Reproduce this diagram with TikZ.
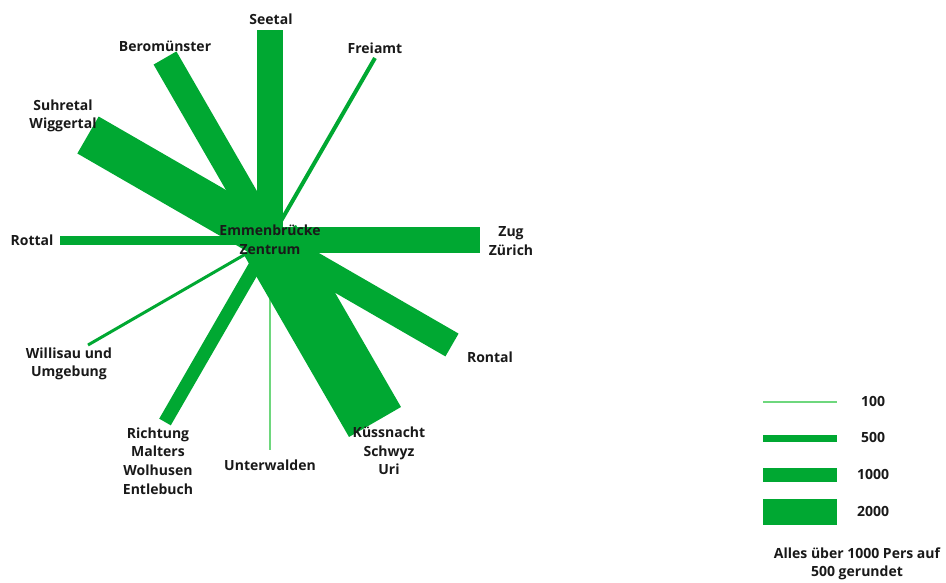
\documentclass[tikz,border=0pt]{standalone}
\usepackage{fontspec}
\setmainfont{Open Sans}
\usetikzlibrary{positioning}
\definecolor{flowgreen}{RGB}{0,168,50}
\definecolor{flowlight}{RGB}{110,215,125}
\tikzset{flow/.style={draw=flowgreen,line cap=butt},
 f100/.style={draw=flowlight,line width=1.2pt},
 f500/.style={flow,line width=5.25pt},
 f1000/.style={flow,line width=10pt},
 f2000/.style={flow,line width=19.75pt},
 place/.style={align=center,inner sep=1pt,text=black!90,
  font=\fontsize{10.5}{13.9}\selectfont\bfseries},
 legval/.style={place}}

\begin{document}
\begin{tikzpicture}[x=0.75pt,y=-0.75pt]
\useasboundingbox (0,0) rectangle (946,582);
\coordinate (c) at (270,240);
\coordinate (zug) at (480,240);
\coordinate (frei) at (375,58);
\coordinate (see) at (270,30);
\coordinate (bero) at (165,58);
\coordinate (suhr) at (88,135);
\coordinate (rott) at (60,240);
\coordinate (will) at (88,345);
\coordinate (rich) at (165,422);
\coordinate (unte) at (270,450);
\coordinate (kues) at (375,422);
\coordinate (ront) at (452,345);
\draw[f100] (c)--(unte);
\draw[flow,line width=2.25pt] (c)--(will);
\draw[flow,line width=3pt] (c)--(frei);
\draw[flow,line width=6.75pt] (c)--(rott);
\draw[f1000] (c)--(rich);
\draw[f2000] (c)--(see);
\draw[f2000] (c)--(bero);
\draw[f2000] (c)--(zug);
\draw[f2000] (c)--(ront);
\draw[flow,line width=32pt] (c)--(suhr);
\draw[flow,line width=45pt] (c)--(kues);
\node[place] (zen) at (c) {Emmenbrücke\\Zentrum};
\node[place] (tsee) at (271,19) {Seetal};
\node[place] (tbero) at (165,46) {Beromünster};
\node[place] (tfrei) at (375,48) {Freiamt};
\node[place] (tsuhr) at (63,116) {Suhretal\\Wiggertal};
\node[place] (trott) at (32,240) {Rottal};
\node[place] (tzug) at (511,241) {Zug\\Zürich};
\node[place] (tront) at (490,357) {Rontal};
\node[place] (tkues) at (389,451) {Küssnacht\\Schwyz\\Uri};
\node[place] (tunte) at (270,465) {Unterwalden};
\node[place] (trich) at (158,461) {Richtung\\Malters\\Wolhusen\\Entlebuch};
\node[place] (twill) at (69,364) {Willisau und\\Umgebung};
\coordinate (l1a) at (763,402); \coordinate (l1b) at (837,402);
\coordinate (l2a) at (763,438); \coordinate (l2b) at (837,438);
\coordinate (l3a) at (763,475); \coordinate (l3b) at (837,475);
\coordinate (l4a) at (763,512); \coordinate (l4b) at (837,512);
\draw[f100] (l1a)--(l1b);
\draw[f500] (l2a)--(l2b);
\draw[f1000] (l3a)--(l3b);
\draw[f2000] (l4a)--(l4b);
\node[legval] (v100) at (873,401) {100};
\node[legval] (v500) at (873,437) {500};
\node[legval] (v1000) at (873,474) {1000};
\node[legval] (v2000) at (873,511) {2000};
\node[place] (note) at (857,564) {Alles über 1000 Pers auf\\500 gerundet};
\end{tikzpicture}
\end{document}
